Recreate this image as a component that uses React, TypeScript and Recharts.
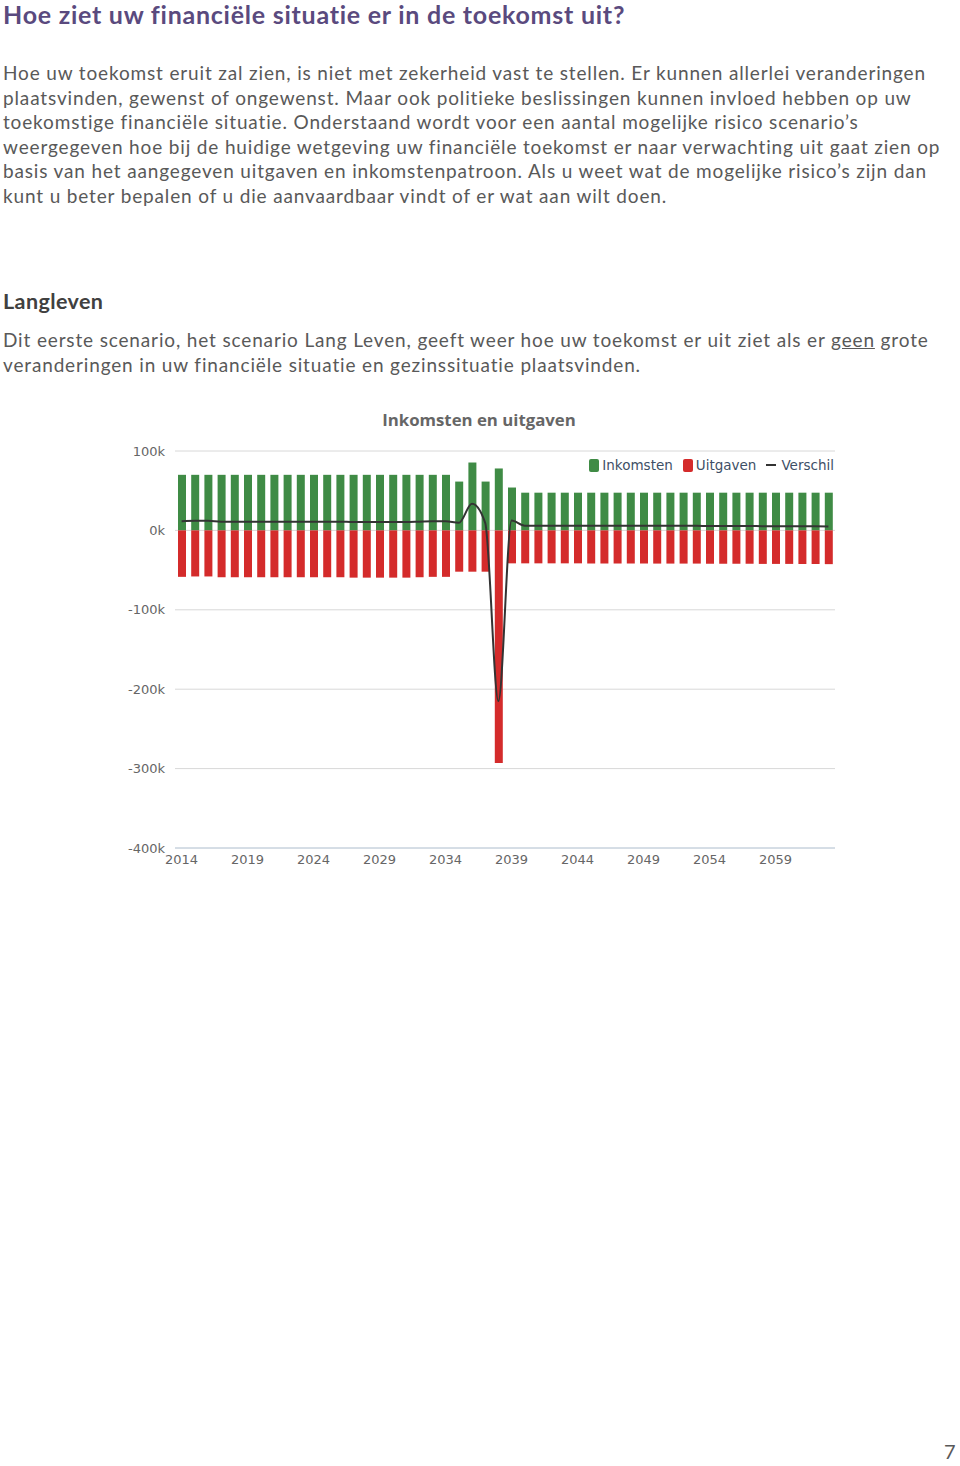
import React from 'react';
import { ComposedChart, Bar, Line, XAxis, YAxis, CartesianGrid } from 'recharts';

const YEARS = [
  '2014', '2015', '2016', '2017', '2018', '2019', '2020', '2021', '2022', '2023',
  '2024', '2025', '2026', '2027', '2028', '2029', '2030', '2031', '2032', '2033',
  '2034', '2035', '2036', '2037', '2038', '2039', '2040', '2041', '2042', '2043',
  '2044', '2045', '2046', '2047', '2048', '2049', '2050', '2051', '2052', '2053',
  '2054', '2055', '2056', '2057', '2058', '2059', '2060', '2061', '2062', '2063',
];

const INKOMSTEN = [
  70000, 70000, 70000, 70000, 70000, 70000, 70000, 70000, 70000, 70000,
  70000, 70000, 70000, 70000, 70000, 70000, 70000, 70000, 70000, 70000,
  70000, 61500, 85500, 61500, 78000, 54000, 47500, 47500, 47500, 47500,
  47500, 47500, 47500, 47500, 47500, 47500, 47500, 47500, 47500, 47500,
  47500, 47500, 47500, 47500, 47500, 47500, 47500, 47500, 47500, 47500,
];

const UITGAVEN = [
  -58500, -58000, -58000, -59000, -59000, -59000, -59000, -59000, -59000, -59000,
  -59000, -59000, -59000, -59500, -59500, -59500, -59500, -59500, -59000, -58500,
  -58500, -52000, -52000, -52000, -293000, -41500, -41500, -41500, -41500, -41500,
  -41500, -41700, -41700, -41700, -41700, -41700, -41800, -41800, -41800, -41800,
  -42000, -42000, -42000, -42000, -42200, -42200, -42200, -42300, -42300, -42500,
];

const VERSCHIL = [
  11500, 12000, 12000, 11000, 11000, 11000, 11000, 11000, 11000, 11000,
  11000, 11000, 11000, 10500, 10500, 10500, 10500, 10500, 11000, 11500,
  11500, 9500, 33500, 9500, -215000, 12500, 6000, 6000, 6000, 6000,
  6000, 5800, 5800, 5800, 5800, 5800, 5700, 5700, 5700, 5700,
  5500, 5500, 5500, 5500, 5300, 5300, 5300, 5200, 5200, 5000,
];

const Y_TICKS = [100000, 0, -100000, -200000, -300000, -400000];

const data = YEARS.map((year, i) => ({
  year,
  inkomsten: INKOMSTEN[i],
  uitgaven: UITGAVEN[i],
  verschil: VERSCHIL[i],
}));

const GREEN = '#3f8b45';
const RED = '#d42b2b';

const INTRO_LINES = [
  'Hoe uw toekomst eruit zal zien, is niet met zekerheid vast te stellen. Er kunnen allerlei veranderingen',
  'plaatsvinden, gewenst of ongewenst. Maar ook politieke beslissingen kunnen invloed hebben op uw',
  'toekomstige financiële situatie. Onderstaand wordt voor een aantal mogelijke risico scenario’s',
  'weergegeven hoe bij de huidige wetgeving uw financiële toekomst er naar verwachting uit gaat zien op',
  'basis van het aangegeven uitgaven en inkomstenpatroon. Als u weet wat de mogelijke risico’s zijn dan',
  'kunt u beter bepalen of u die aanvaardbaar vindt of er wat aan wilt doen.',
];

const bodyFont = 'Lato, "Open Sans", sans-serif';
const chartFont = '"DejaVu Sans", Verdana, sans-serif';

// legend sits inside the plot, top right, like the original
function ChartLegend() {
  const item = { display: 'flex', alignItems: 'center', marginLeft: 10 };
  const sq = (c: string) => ({ width: 10, height: 13, borderRadius: 2, background: c, marginRight: 3 });
  return (
    <div style={{ display: 'flex', fontFamily: chartFont, fontSize: 13.5, color: '#3e4f66', whiteSpace: 'nowrap' }}>
      <div style={item}><div style={sq(GREEN)} />Inkomsten</div>
      <div style={item}><div style={sq(RED)} />Uitgaven</div>
      <div style={item}>
        <div style={{ width: 10, height: 2, background: '#333', marginRight: 5 }} />Verschil
      </div>
    </div>
  );
}

const fmtK = (v: number) => `${v / 1000}k`;

const para = {
  position: 'absolute' as const,
  left: 3,
  fontFamily: bodyFont,
  fontSize: 19,
  letterSpacing: 0.85,
  lineHeight: '24.6px',
  color: '#595959',
  whiteSpace: 'nowrap' as const,
};

export default function App() {
  return (
    <div style={{ position: 'absolute', left: 0, top: 0, width: 960, height: 1466, background: '#fff', overflow: 'hidden' }}>
      <div style={{ position: 'absolute', left: 3, top: -1, fontFamily: bodyFont, fontWeight: 700, fontSize: 25, letterSpacing: 0.75, color: '#5a4a7e', whiteSpace: 'nowrap' }}>
        Hoe ziet uw financiële situatie er in de toekomst uit?
      </div>
      <div style={{ ...para, top: 61 }}>
        {INTRO_LINES.map((l, i) => <div key={i}>{l}</div>)}
      </div>
      <div style={{ position: 'absolute', left: 3, top: 288, fontFamily: bodyFont, fontWeight: 700, fontSize: 21.5, letterSpacing: 0.4, color: '#404040', whiteSpace: 'nowrap' }}>
        Langleven
      </div>
      <div style={{ ...para, top: 328 }}>
        <div>Dit eerste scenario, het scenario Lang Leven, geeft weer hoe uw toekomst er uit ziet als er <span style={{ textDecoration: 'underline' }}>geen</span> grote</div>
        <div>veranderingen in uw financiële situatie en gezinssituatie plaatsvinden.</div>
      </div>
      <div style={{ position: 'absolute', left: 0, width: 958, top: 408, textAlign: 'center', fontFamily: '"Open Sans", sans-serif', fontWeight: 700, fontSize: 16.8, color: '#666' }}>
        Inkomsten en uitgaven
      </div>
      <div style={{ position: 'absolute', left: 0, top: 440 }}>
        <ComposedChart
          width={860}
          height={450}
          data={data}
          stackOffset="sign"
          barSize={8}
          margin={{ top: 11, right: 25, left: 0, bottom: 12 }}
        >
          <CartesianGrid vertical={false} stroke="#d8d8d8" />
          <XAxis
            dataKey="year"
            interval={4}
            tickLine={false}
            axisLine={{ stroke: '#c0d0e0' }}
            tickMargin={1}
            height={30}
            tick={{ fontFamily: chartFont, fontSize: 13, fill: '#666' }}
          />
          <YAxis
            width={175}
            domain={[-400000, 100000]}
            ticks={Y_TICKS}
            tickFormatter={fmtK}
            axisLine={false}
            tickLine={false}
            tickMargin={4}
            tick={{ fontFamily: chartFont, fontSize: 13, fill: '#666' }}
          />
          <Bar dataKey="inkomsten" name="Inkomsten" stackId="a" fill={GREEN} isAnimationActive={false} />
          <Bar dataKey="uitgaven" name="Uitgaven" stackId="a" fill={RED} isAnimationActive={false} />
          <Line dataKey="verschil" name="Verschil" type="monotone" stroke="#333" strokeWidth={2} dot={false} isAnimationActive={false} />
        </ComposedChart>
        <div style={{ position: 'absolute', right: 26, top: 17 }}>
          <ChartLegend />
        </div>
      </div>
      <div style={{ position: 'absolute', left: 944, top: 1441, fontFamily: bodyFont, fontSize: 20, lineHeight: '20px', color: '#595959' }}>7</div>
    </div>
  );
}
